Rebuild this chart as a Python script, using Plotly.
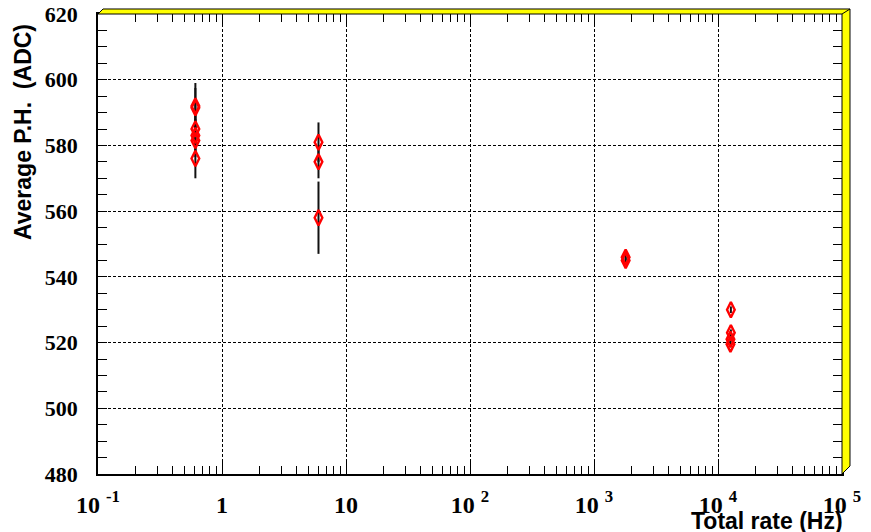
import plotly.graph_objects as go

# ---- data ----
rate_g1 = [0.61, 0.61, 0.61, 0.61, 0.61, 0.61]
ph_g1 = [592.0, 591.5, 585.0, 583.0, 581.5, 576.0]
err_g1 = [7.0, 6.0, 5.0, 5.0, 5.0, 6.0]

rate_g2 = [6.0, 6.0, 6.0]
ph_g2 = [581.0, 575.0, 558.0]
err_g2 = [6.0, 5.0, 11.0]

rate_g3 = [1800.0, 1800.0]
ph_g3 = [546.0, 545.0]
err_g3 = [1.0, 1.0]

rate_g4 = [12700.0, 12700.0, 12600.0, 12600.0]
ph_g4 = [530.0, 523.0, 521.0, 519.5]
err_g4 = [1.0, 1.0, 1.0, 1.0]

x_tickvals = [0.1, 1, 10, 100, 1000, 10000, 100000]
x_ticktext = ["10 <sup>-1</sup>", "1", "10", "10 <sup>2</sup>", "10 <sup>3</sup>",
              "10 <sup>4</sup>", "10 <sup>5</sup>"]
y_tickvals = [480, 500, 520, 540, 560, 580, 600, 620]
y_ticktext = [str(v) for v in y_tickvals]

x_all = rate_g1 + rate_g2 + rate_g3 + rate_g4
y_all = ph_g1 + ph_g2 + ph_g3 + ph_g4
e_all = err_g1 + err_g2 + err_g3 + err_g4

W, H = 871, 532
L, R, T, B = 98, 29, 14, 58

fig = go.Figure()
fig.add_trace(go.Scatter(
    x=x_all, y=y_all, mode="markers",
    error_y=dict(type="data", array=e_all, visible=True, color="#111111",
                 thickness=2, width=0),
    marker=dict(symbol="diamond-tall-open", size=11, color="#ff0000",
                line=dict(width=2.4, color="#ff0000")),
    showlegend=False,
))

serif = "Liberation Serif, Times New Roman, serif"
sans = "Liberation Sans, Arial, sans-serif"

fig.update_xaxes(
    type="log", range=[-1, 5], tickvals=x_tickvals,
    ticktext=["<b>" + t + "</b>" for t in x_ticktext],
    ticks="inside", ticklen=12, tickcolor="black", tickwidth=1,
    showline=True, linecolor="black", linewidth=1.5, mirror="ticks",
    showgrid=True, gridcolor="black", gridwidth=1, griddash="3px,2px",
    minor=dict(ticks="inside", ticklen=8, dtick="D1", tickcolor="black", showgrid=False),
    tickfont=dict(family=serif, size=24, color="black"),
    ticklabelstandoff=8, zeroline=False, automargin=False,
)
fig.update_yaxes(
    range=[480, 620], tickvals=y_tickvals,
    ticktext=["<b>" + t + "</b>" for t in y_ticktext],
    ticks="inside", ticklen=9, tickcolor="black", tickwidth=1,
    showline=True, linecolor="black", linewidth=1.5, mirror="ticks",
    showgrid=True, gridcolor="black", gridwidth=1, griddash="3px,2px",
    minor=dict(ticks="inside", ticklen=9, dtick=5, tickcolor="black", showgrid=False),
    tickfont=dict(family=serif, size=22, color="black"),
    ticklabelstandoff=14, zeroline=False, automargin=False,
)

pw, ph = W - L - R, H - T - B
def px(xp):
    return (xp - L) / pw
def py(yp):
    return (H - B - yp) / ph

pts = [(98, 14), (103, 9), (850, 9), (850, 466), (842, 474), (842, 14)]
path = "M " + " L ".join(f"{px(a):.5f},{py(b):.5f}" for a, b in pts) + " Z"
fig.add_shape(type="path", path=path, xref="paper", yref="paper",
              fillcolor="#ffff00", line=dict(color="black", width=1), layer="above")
fig.add_shape(type="line", xref="paper", yref="paper",
              x0=px(842), y0=py(14), x1=px(850), y1=py(9),
              line=dict(color="black", width=1), layer="above")

fig.add_annotation(text="<b>Average P.H.  (ADC)</b>", xref="paper", yref="paper",
                   x=px(23), y=py(22), xanchor="center", yanchor="top",
                   textangle=-90, showarrow=False,
                   font=dict(family=sans, size=23, color="black"))
fig.add_annotation(text="<b>Total rate (Hz)</b>", xref="paper", yref="paper",
                   x=px(845), y=py(521), xanchor="right", yanchor="middle",
                   showarrow=False,
                   font=dict(family=sans, size=23, color="black"))

fig.update_layout(
    width=W, height=H,
    margin=dict(l=L, r=R, t=T, b=B),
    paper_bgcolor="white", plot_bgcolor="white",
)
fig.write_html("out.html", config={"displayModeBar": False},
               post_script="document.body.style.margin='0px';document.body.style.padding='0px';")
